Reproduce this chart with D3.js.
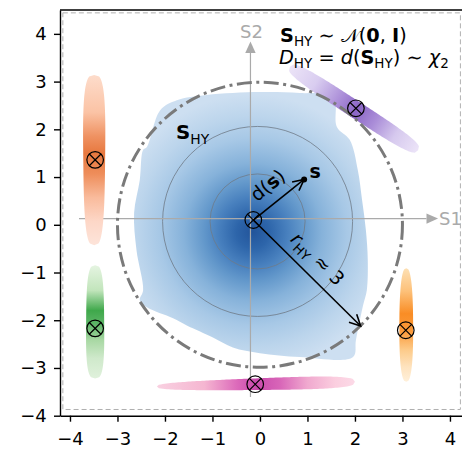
<!DOCTYPE html>
<html><head><meta charset="utf-8">
<script src="https://cdn.jsdelivr.net/npm/d3@7"></script>
<style>
html,body{margin:0;padding:0;background:#fff;}
svg{display:block;font-family:"DejaVu Sans",sans-serif;}
</style></head><body>
<svg id="chart" width="462" height="450"></svg>
<script>
// ---- tick values ----
const xTicks = [-4, -3, -2, -1, 0, 1, 2, 3, 4];
const yTicks = [-4, -3, -2, -1, 0, 1, 2, 3, 4];

// ---- outline of the high-density (typical) region, data units ----
const hyBoundaryX = [0, 0.84, 1.54, 1.62, 1.89, 2.06, 2.15, 2.23, 2.27, 2.25, 2.17, 2.02, 1.96, 0.84, 0, -0.57, -0.99, -1.54, -1.83, -2.38, -2.53, -2.46, -2.6, -2.65, -2.53, -2.46, -2.38, -2.1, -1.75, -1.12];
const hyBoundaryY = [2.78, 2.76, 2.68, 2.05, 1.78, 1.15, 0.52, -0.11, -0.74, -1.37, -1.69, -2.42, -2.77, -2.77, -2.69, -2.57, -2.36, -2.11, -1.96, -1.73, -1.58, -1.37, -0.53, 0.25, 0.94, 1.57, 1.63, 2.4, 2.61, 2.72];

// density peak and reference circles
const densityPeak = [-0.15, -0.15];
const refCentre = [-0.05, 0.07];
const refRadii = [1, 2];
const typicalRadius = 3;

// ---- reference axes S1 / S2 ----
const s1From = [-3.81, 0.13], s1To = [3.75, 0.13];
const s2From = [-0.2, -3.61], s2To = [-0.2, 3.84];

// ---- ⊗ markers ----
const markerX = [-0.14, -3.47, -3.47, 3.07, -0.10, 2.02];
const markerY = [0.10, 1.36, -2.17, -2.21, -3.34, 2.44];

// ---- clusters outside the typical set ----
const clusterNames = ["orangered", "green", "orange", "magenta", "purple"];
const clusterStartX = [-3.49, -3.47, 3.08, -2.17, 0.63];
const clusterStartY = [3.14, -0.85, -0.91, -3.39, 3.31];
const clusterEndX = [-3.49, -3.47, 3.08, 2.00, 3.33];
const clusterEndY = [-0.43, -3.22, -3.29, -3.29, 1.56];
const clusterHalfWidthStart = [0.25, 0.18, 0.14, 0.09, 0.18];
const clusterHalfWidthEnd = [0.21, 0.2, 0.15, 0.155, 0.18];
const clusterRoundness = [3.2, 3.2, 2.5, 3, 3.4];

// ---- arrows: point s and the typical-radius end point ----
const pointS = [0.93, 0.95];
const radiusEnd = [2.12, -2.12];

// ---- dashed frame ----
const frameX = [-4.15, 4.22];
const frameY = [-3.87, 4.44];

// ---- colour ramps (offset along cluster, colour) ----
const clusterStops = {
  orangered: [[0, "#fddccb"], [0.22, "#fbc3a5"], [0.36, "#ef9262"], [0.46, "#e7783f"], [0.58, "#ee8d5a"], [0.72, "#f9bb9c"], [0.86, "#fdd7c7"], [1, "#fde4da"]],
  green: [[0, "#e5f4e1"], [0.22, "#c2e5bc"], [0.4, "#3fa84b"], [0.52, "#5db567"], [0.66, "#a8d8a3"], [0.82, "#cfe9cb"], [1, "#e0f1dc"]],
  orange: [[0, "#fde0b4"], [0.2, "#fdc17a"], [0.4, "#f98d25"], [0.56, "#fb9b3c"], [0.72, "#fdcb8a"], [0.87, "#fee3bf"], [1, "#fff0da"]],
  magenta: [[0, "#f9d1e1"], [0.24, "#f5b6d1"], [0.4, "#dd6cbb"], [0.5, "#c94aad"], [0.62, "#d865b8"], [0.76, "#f0a9cf"], [0.9, "#fbcedf"], [1, "#fcdae7"]],
  purple: [[0, "#ece4f7"], [0.2, "#d9cdf0"], [0.4, "#a98bd7"], [0.52, "#8b66c6"], [0.66, "#aa8dd8"], [0.82, "#d6c9ee"], [1, "#ece4f8"]]
};
const blueStops = [[0, "#22549a"], [0.12, "#2d65aa"], [0.25, "#4880be"], [0.36, "#6398cb"], [0.5, "#86b2da"], [0.68, "#a7c8e6"], [0.84, "#bcd5ec"], [1, "#cddff1"]];

const svg = d3.select("#chart");
const x = d3.scaleLinear().domain([-4.21, 4.3]).range([60, 464.2]);
const y = d3.scaleLinear().domain([-4, 4.5]).range([415.7, 10]);
const unit = x(1) - x(0);
const defs = svg.append("defs");

// clip to the axes area
defs.append("clipPath").attr("id", "plotClip").append("rect")
  .attr("x", x(-4.21)).attr("y", y(4.5)).attr("width", x(4.3) - x(-4.21)).attr("height", y(-4) - y(4.5));
const plot = svg.append("g").attr("clip-path", "url(#plotClip)");

// ---- density region ----
const blueGrad = defs.append("radialGradient").attr("id", "blueGrad")
  .attr("gradientUnits", "userSpaceOnUse")
  .attr("cx", x(densityPeak[0])).attr("cy", y(densityPeak[1])).attr("r", 2.9 * unit);
blueStops.forEach(s => blueGrad.append("stop").attr("offset", s[0]).attr("stop-color", s[1]));

const boundary = hyBoundaryX.map((v, i) => [v, hyBoundaryY[i]]);
plot.append("path")
  .attr("d", d3.line().x(d => x(d[0])).y(d => y(d[1])).curve(d3.curveCatmullRomClosed.alpha(0.5))(boundary))
  .attr("fill", "url(#blueGrad)");

// reference circles
plot.selectAll("circle.ref").data(refRadii).join("circle")
  .attr("class", "ref")
  .attr("cx", x(refCentre[0])).attr("cy", y(refCentre[1]))
  .attr("r", d => d * unit)
  .attr("fill", "none").attr("stroke", "#6f7a86").attr("stroke-width", 0.8);

// ---- S1 / S2 axes ----
function axisArrow(from, to) {
  const x0 = x(from[0]), y0 = y(from[1]), x1 = x(to[0]), y1 = y(to[1]);
  const len = Math.hypot(x1 - x0, y1 - y0), ux = (x1 - x0) / len, uy = (y1 - y0) / len;
  const hl = 11.6, hw = 5.2;
  plot.append("line").attr("x1", x0).attr("y1", y0).attr("x2", x1 - ux * hl).attr("y2", y1 - uy * hl)
    .attr("stroke", "#aaaaaa").attr("stroke-width", 1.2);
  const bx = x1 - ux * hl, by = y1 - uy * hl;
  plot.append("path")
    .attr("d", `M${x1},${y1}L${bx - uy * hw},${by + ux * hw}L${bx + uy * hw},${by - ux * hw}Z`)
    .attr("fill", "#aaaaaa");
}
axisArrow(s1From, s1To);
axisArrow(s2From, s2To);

// ---- clusters ----
clusterNames.forEach((name, i) => {
  const x0 = x(clusterStartX[i]), y0 = y(clusterStartY[i]);
  const x1 = x(clusterEndX[i]), y1 = y(clusterEndY[i]);
  const len = Math.hypot(x1 - x0, y1 - y0);
  const ux = (x1 - x0) / len, uy = (y1 - y0) / len, nx = -uy, ny = ux;
  const g = defs.append("linearGradient").attr("id", "grad-" + name)
    .attr("gradientUnits", "userSpaceOnUse")
    .attr("x1", x0).attr("y1", y0).attr("x2", x1).attr("y2", y1);
  clusterStops[name].forEach(s => g.append("stop").attr("offset", s[0]).attr("stop-color", s[1]));
  const p = clusterRoundness[i], N = 100, pts = [];
  const widthAt = t => {
    const f = (t + 1) / 2;
    const hw = (clusterHalfWidthStart[i] * (1 - f) + clusterHalfWidthEnd[i] * f) * unit;
    return hw * Math.pow(Math.max(0, 1 - Math.pow(Math.abs(t), p)), 1 / p);
  };
  const cx = (x0 + x1) / 2, cy = (y0 + y1) / 2;
  for (let k = 0; k <= N; k++) {
    const t = -1 + 2 * k / N, w = widthAt(t);
    pts.push([cx + ux * t * len / 2 + nx * w, cy + uy * t * len / 2 + ny * w]);
  }
  for (let k = N; k >= 0; k--) {
    const t = -1 + 2 * k / N, w = widthAt(t);
    pts.push([cx + ux * t * len / 2 - nx * w, cy + uy * t * len / 2 - ny * w]);
  }
  plot.append("path").attr("d", d3.line()(pts) + "Z").attr("fill", `url(#grad-${name})`);
});

// ---- typical-set circle ----
plot.append("circle")
  .attr("cx", x(0)).attr("cy", y(0)).attr("r", typicalRadius * unit)
  .attr("fill", "none").attr("stroke", "#7a7a7a").attr("stroke-width", 3)
  .attr("stroke-dasharray", "15,4.5,3,4.5");

// ---- ⊗ markers ----
const mr = 8.3, md = mr * Math.SQRT1_2;
const mk = plot.selectAll("g.mk").data(markerX.map((v, i) => [v, markerY[i]])).join("g")
  .attr("class", "mk").attr("transform", d => `translate(${x(d[0])},${y(d[1])})`);
mk.append("circle").attr("r", mr).attr("fill", "none").attr("stroke", "#000").attr("stroke-width", 1.2);
mk.append("path").attr("d", `M${-md},${-md}L${md},${md}M${-md},${md}L${md},${-md}`)
  .attr("stroke", "#000").attr("stroke-width", 1.2);

// ---- arrows from the centre marker ----
function pointerArrow(from, to) {
  const x0 = x(from[0]), y0 = y(from[1]), x1 = x(to[0]), y1 = y(to[1]);
  const len = Math.hypot(x1 - x0, y1 - y0), ux = (x1 - x0) / len, uy = (y1 - y0) / len;
  plot.append("line").attr("x1", x0).attr("y1", y0).attr("x2", x1).attr("y2", y1)
    .attr("stroke", "#000").attr("stroke-width", 1.6);
  const hl = 11, hw = 5.5, bx = x1 - ux * hl, by = y1 - uy * hl;
  plot.append("path")
    .attr("d", `M${bx - uy * hw},${by + ux * hw}L${x1},${y1}L${bx + uy * hw},${by - ux * hw}`)
    .attr("fill", "none").attr("stroke", "#000").attr("stroke-width", 1.6).attr("stroke-linejoin", "miter");
  return { x0, y0, ux, uy, len, angle: Math.atan2(uy, ux) * 180 / Math.PI };
}
const centre = [markerX[0], markerY[0]];
const aS = pointerArrow(centre, pointS);
plot.append("circle").attr("cx", x(pointS[0])).attr("cy", y(pointS[1])).attr("r", 3).attr("fill", "#000");
const aR = pointerArrow(centre, radiusEnd);

// ---- math-style text helper ----
function mathText(parent, px, py, size, runs, anchor) {
  const t = parent.append("text").attr("x", px).attr("y", py)
    .attr("font-size", size).attr("fill", "#000").attr("text-anchor", anchor || "start");
  let shift = 0;
  runs.forEach(r => {
    const target = r.sub ? size * 0.24 : 0;
    const s = t.append("tspan").text(r.t).attr("dy", target - shift);
    shift = target;
    if (r.sub) s.attr("font-size", size * 0.7);
    if (r.b) s.attr("font-weight", "bold");
    if (r.i) s.attr("font-style", "italic");
  });
  return t;
}

// axis labels S1, S2
svg.append("text").attr("x", x(s1To[0]) + 1).attr("y", y(s1To[1]) + 6.5)
  .attr("font-size", 18).attr("fill", "#aaaaaa").text("S1");
svg.append("text").attr("x", x(s2To[0]) + 1).attr("y", y(s2To[1]) - 4)
  .attr("font-size", 18).attr("fill", "#aaaaaa").attr("text-anchor", "middle").text("S2");

// annotation in the top right
mathText(svg, 280, 41.5, 19.3, [
  { t: "S", b: 1 }, { t: "HY", sub: 1 }, { t: " ∼ " }, { t: "𝒩" }, { t: "(" }, { t: "0", b: 1 }, { t: ", " }, { t: "I", b: 1 }, { t: ")" }
]);
mathText(svg, 279, 63.5, 19.3, [
  { t: "D", i: 1 }, { t: "HY", sub: 1 }, { t: " = " }, { t: "d", i: 1 }, { t: "(" }, { t: "S", b: 1 }, { t: "HY", sub: 1 }, { t: ") ∼ " }, { t: "χ", i: 1 }, { t: "2", sub: 1 }
]);

// label of the typical set
mathText(svg, 176, 139.3, 19.8, [{ t: "S", b: 1 }, { t: "HY", sub: 1 }]);

// label of the point s
mathText(svg, 309.5, 178.3, 19, [{ t: "s", b: 1 }]);

// labels along the arrows
function alongLabel(a, along, perp, runs, size) {
  let sx = a.uy, sy = -a.ux;
  if (sy > 0) { sx = -sx; sy = -sy; }
  const px = a.x0 + a.ux * along + sx * perp, py = a.y0 + a.uy * along + sy * perp;
  const g = svg.append("g").attr("transform", `translate(${px},${py}) rotate(${a.angle})`);
  mathText(g, 0, 0, size, runs, "middle");
}
alongLabel(aS, 33, 11.5, [{ t: "d(" }, { t: "s", b: 1 }, { t: ")" }], 19);
alongLabel(aR, 73, 11, [{ t: "r", i: 1 }, { t: "HY", sub: 1 }, { t: " ≈ 3" }], 19);

// ---- dashed frame ----
svg.append("rect")
  .attr("x", x(frameX[0])).attr("y", y(frameY[1]))
  .attr("width", x(frameX[1]) - x(frameX[0])).attr("height", y(frameY[0]) - y(frameY[1]))
  .attr("fill", "none").attr("stroke", "#b0b0b0").attr("stroke-width", 1).attr("stroke-dasharray", "5,3");

// ---- axes ----
const fmt = d => (d < 0 ? "−" + Math.abs(d) : "" + d);
const xAxis = svg.append("g").attr("transform", `translate(0,${y(-4)})`)
  .call(d3.axisBottom(x).tickValues(xTicks).tickFormat(fmt).tickSize(6).tickSizeOuter(0).tickPadding(11));
const yAxis = svg.append("g").attr("transform", `translate(${x(-4.21)},0)`)
  .call(d3.axisLeft(y).tickValues(yTicks).tickFormat(fmt).tickSize(6).tickSizeOuter(0).tickPadding(7.3));
[xAxis, yAxis].forEach(a => {
  a.selectAll("path.domain").attr("stroke", "#000").attr("stroke-width", 1.4);
  a.selectAll(".tick line").attr("stroke", "#000").attr("stroke-width", 1.4);
  a.selectAll(".tick text").attr("font-size", 18).attr("font-family", "DejaVu Sans").attr("fill", "#000");
});
// top and right spines
svg.append("line").attr("x1", x(-4.21)).attr("x2", x(4.3)).attr("y1", y(4.5)).attr("y2", y(4.5))
  .attr("stroke", "#000").attr("stroke-width", 1.4);
svg.append("line").attr("x1", x(4.3)).attr("x2", x(4.3)).attr("y1", y(4.5)).attr("y2", y(-4))
  .attr("stroke", "#000").attr("stroke-width", 1.4);
</script>
</body></html>
